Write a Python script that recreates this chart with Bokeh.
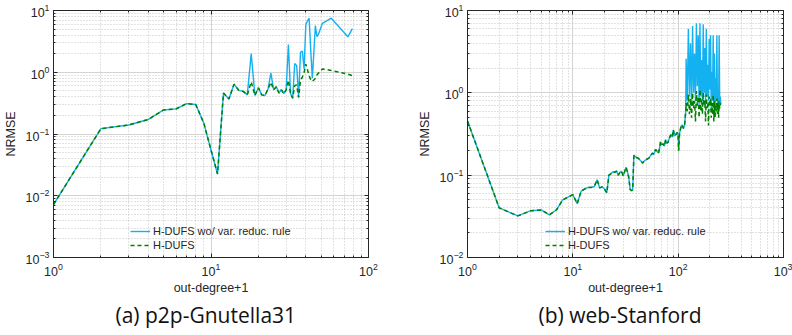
from bokeh.plotting import figure
from bokeh.layouts import row
from bokeh.models import (LogAxis, Legend, LegendItem, Title, FixedTicker,
                          CustomJSTickFormatter)
from bokeh.embed import file_html
from bokeh.resources import INLINE

# ---------------- (a) p2p-Gnutella31 ----------------
a_x = [1, 2, 3, 4, 5, 6, 7, 8, 9, 10, 11, 12, 13, 14, 15, 16, 17, 18, 19, 20,
       21, 22, 23, 24, 25, 26, 27, 28, 29, 30, 31, 32, 33, 34, 35, 36, 37, 38,
       39, 40, 42, 43, 44, 46, 47, 48, 51, 58, 74, 79]
a_wo = [0.0072, 0.122, 0.14, 0.172, 0.245, 0.255, 0.31, 0.30, 0.15, 0.055,
        0.0225, 0.46, 0.37, 0.64, 0.51, 0.49, 0.43, 2.0, 0.42, 0.56,
        0.43, 0.42, 0.53, 0.97, 0.52, 0.58, 0.46, 0.52, 0.45, 0.52,
        2.8, 0.45, 0.38, 1.39, 1.28, 0.39, 2.1, 2.2,
        1.13, 6.0, 7.5, 2.2, 0.8, 5.7, 3.8, 4.05, 6.2, 7.5, 3.75, 5.1]
a_h = [0.0072, 0.122, 0.14, 0.172, 0.245, 0.255, 0.31, 0.30, 0.15, 0.055,
       0.0225, 0.46, 0.37, 0.64, 0.51, 0.49, 0.43, 0.70, 0.42, 0.56,
       0.43, 0.42, 0.53, 0.69, 0.52, 0.58, 0.46, 0.52, 0.45, 0.52,
       0.74, 0.45, 0.38, 0.61, 0.62, 0.39, 0.75, 0.83,
       1.0, 1.35, 0.88, 0.75, 0.71, 0.79, 0.9, 0.96, 1.13, 1.07, 0.93, 0.88]

# ---------------- (b) web-Stanford ----------------
b_x = [1, 2, 3, 4, 5, 6, 7, 8, 9, 10, 11, 12, 13, 14, 15, 16, 17, 18, 19, 20,
       21, 22, 23, 24, 25, 26, 27, 28, 29, 30, 31, 32, 33, 34, 35, 36, 37, 38,
       40, 42, 44, 46, 48, 50, 53, 55, 57, 59, 61, 63, 65, 67, 68, 70, 72, 74,
       76, 78, 80, 82, 85, 88, 90, 92, 95, 98, 100, 101, 103, 106, 109, 112,
       115, 118,
       119, 122, 125, 128, 131, 134, 137, 140, 143, 146, 149, 152, 155, 158,
       161, 164, 167, 170, 173, 176, 179, 182, 185, 188, 191, 194, 197, 200,
       203, 206, 209, 212, 215, 218, 221, 224, 227, 230, 233, 236, 239, 242,
       245, 248, 251, 254]
b_common = [0.455, 0.040, 0.032, 0.037, 0.0378, 0.033, 0.038, 0.050, 0.054,
            0.058, 0.045, 0.064, 0.068, 0.071, 0.071, 0.073, 0.088, 0.070,
            0.072, 0.068, 0.061, 0.100, 0.104, 0.110, 0.108, 0.112, 0.100,
            0.108, 0.112, 0.098, 0.110, 0.125, 0.110, 0.093, 0.067, 0.065,
            0.066, 0.175, 0.165, 0.160, 0.150, 0.140, 0.150, 0.155, 0.162,
            0.175, 0.185, 0.180, 0.205, 0.195, 0.185, 0.220, 0.255, 0.235,
            0.240, 0.225, 0.270, 0.245, 0.250, 0.275, 0.310, 0.290, 0.355,
            0.300, 0.310, 0.330, 0.300, 0.198, 0.320, 0.380, 0.410, 0.370,
            0.400, 0.600]
b_wo_tail = [2.6, 0.8, 6.0, 0.9, 4.0, 0.7, 6.5, 1.0, 3.0, 0.8, 7.0, 1.2, 5.0,
             0.7, 7.0, 0.9, 2.5, 0.8, 6.8, 1.0, 3.5, 0.7, 6.0, 0.9, 2.2, 0.8,
             4.5, 1.1, 5.0, 0.6, 1.8, 0.8, 5.0, 0.7, 3.0, 0.6, 1.5, 0.8, 5.0,
             0.7, 0.9, 0.6, 5.0, 0.8, 0.9, 0.75]
b_h_tail = [0.75, 0.60, 0.95, 0.55, 0.85, 0.50, 1.00, 0.65, 0.80, 0.45, 1.05,
            0.70, 0.90, 0.50, 1.10, 0.60, 0.85, 0.55, 1.00, 0.70, 0.80, 0.45,
            0.95, 0.65, 0.75, 0.40, 0.90, 0.70, 0.85, 0.50, 0.75, 0.55, 0.95,
            0.45, 0.80, 0.50, 0.70, 0.60, 0.85, 0.55, 0.75, 0.50, 0.80, 0.65,
            0.70, 0.75]
b_wo = b_common + b_wo_tail
b_h = b_common + b_h_tail

LABEL_WO = "H-DUFS wo/ var. reduc. rule"
LABEL_H = "H-DUFS"
BLUE = "#14B1F0"
GREEN = "#008000"
INK = "#262626"
FONT = "Liberation Sans"


def decade_ticks(lo_exp, hi_exp):
    major = [10.0 ** e for e in range(lo_exp, hi_exp + 1)]
    minor = [m * 10.0 ** e for e in range(lo_exp, hi_exp) for m in range(2, 10)]
    return FixedTicker(ticks=major, minor_ticks=minor)


def style_axis(ax):
    ax.axis_line_color = INK
    ax.major_tick_line_color = INK
    ax.minor_tick_line_color = INK
    ax.major_tick_in = 4
    ax.major_tick_out = 0
    ax.minor_tick_in = 2
    ax.minor_tick_out = 0
    ax.major_label_text_font = FONT
    ax.major_label_text_color = INK
    ax.axis_label_text_font = FONT
    ax.axis_label_text_color = INK
    ax.axis_label_text_font_style = "normal"
    ax.axis_label_text_font_size = "12.5px"
    ax.major_label_text_font_size = "12.5px"


def make(xs, wo, h, xexp, yexp, caption, left, right, top, bottom, leg_x,
         cap_offset):
    p = figure(width=396, height=335, x_axis_type="log", y_axis_type="log",
               x_range=(10.0 ** xexp[0], 10.0 ** xexp[1]),
               y_range=(10.0 ** yexp[0], 10.0 ** yexp[1]),
               output_backend="svg", toolbar_location=None,
               min_border_left=left, min_border_right=right,
               min_border_top=top, min_border_bottom=bottom)
    p.outline_line_color = INK
    p.background_fill_color = "white"
    xt = decade_ticks(*xexp)
    yt = decade_ticks(*yexp)
    p.xaxis.ticker = xt
    p.yaxis.ticker = yt
    p.xgrid.ticker = xt
    p.ygrid.ticker = yt
    for g in (p.xgrid, p.ygrid):
        g.grid_line_color = "#d4d4d4"
        g.grid_line_width = 1
        g.minor_grid_line_color = "#c4c4c4"
        g.minor_grid_line_dash = "1 2"
        g.minor_grid_line_width = 1
    p.xaxis.axis_label = "out-degree+1"
    p.yaxis.axis_label = "NRMSE"
    style_axis(p.xaxis[0])
    style_axis(p.yaxis[0])
    p.xaxis.major_label_standoff = 5
    p.yaxis.major_label_standoff = 4
    p.xaxis.axis_label_standoff = 2
    p.yaxis.axis_label_standoff = 5

    blank = CustomJSTickFormatter(code="return ''")
    top_ax = LogAxis(ticker=xt, formatter=blank)
    right_ax = LogAxis(ticker=yt, formatter=blank)
    style_axis(top_ax)
    style_axis(right_ax)
    for ax in (top_ax, right_ax):
        ax.major_label_text_font_size = "1px"
        ax.major_label_standoff = 0
    p.add_layout(top_ax, "above")
    p.add_layout(right_ax, "right")

    r1 = p.line(xs, wo, line_color=BLUE, line_width=1.4)
    r2 = p.line(xs, h, line_color=GREEN, line_width=1.5, line_dash="4 3")

    leg = Legend(items=[LegendItem(label=LABEL_WO, renderers=[r1]),
                        LegendItem(label=LABEL_H, renderers=[r2])],
                 location=(leg_x, 5), border_line_color=None,
                 background_fill_alpha=0, padding=0, margin=0, spacing=0,
                 glyph_width=20, glyph_height=14, label_height=14,
                 label_standoff=3, label_text_font=FONT,
                 label_text_font_size="11px", label_text_color=INK)
    p.add_layout(leg)

    cap = Title(text=caption, align="left", text_font="Open Sans",
                text_font_size="21px", text_font_style="normal",
                text_color="#111111", standoff=2, offset=cap_offset)
    p.add_layout(cap, "below")
    return p


pa = make(a_x, a_wo, a_h, (0, 2), (-3, 1), "(a) p2p-Gnutella31",
          50, 28, 10, 78, 77, 62)
pb = make(b_x, b_wo, b_h, (0, 3), (-2, 1), "(b) web-Stanford",
          71, 9, 8, 78, 78, 71)

layout = row(pa, pb)
open("out.html", "w").write(file_html(layout, INLINE))
